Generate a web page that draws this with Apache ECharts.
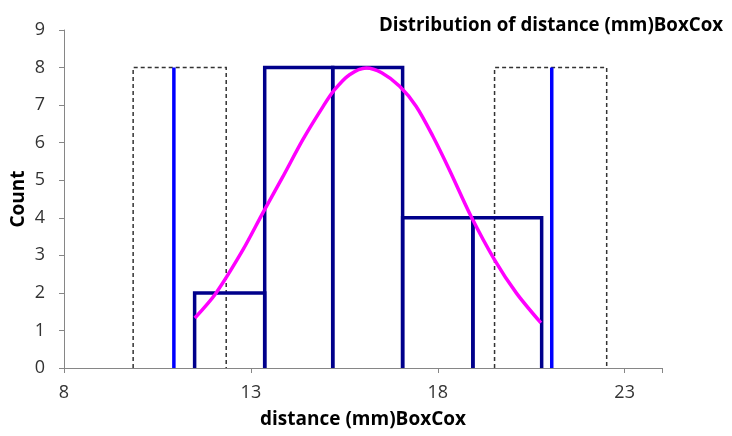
<!DOCTYPE html>
<html>
<head>
<meta charset="utf-8">
<script src="https://cdn.jsdelivr.net/npm/echarts@6/dist/echarts.min.js"></script>
<style>html,body{margin:0;padding:0;background:#fff;}#c{width:732px;height:436px;}</style>
</head>
<body>
<div id="c"></div>
<script>
// Histogram bins (edges) and counts
var binEdges = [11.495, 13.37, 15.19, 17.06, 18.94, 20.78];
var binCounts = [2, 8, 8, 4, 4];
// Vertical solid blue lines (x positions) and their height
var blueLines = [10.94, 21.05];
var blueLineHeight = 8;
// Dashed rectangles [left, right] and height
var dashedBoxes = [[9.85, 12.34], [19.52, 22.52]];
var dashedHeight = 8;
// Fitted curve points
var curveX = [11.50, 12.07, 12.79, 13.32, 13.86, 14.39, 14.93, 15.24, 15.64, 16.09, 16.50, 16.98, 17.42, 17.87, 18.31, 18.89, 19.52, 20.10, 20.76];
var curveY = [1.33, 2.00, 3.15, 4.13, 5.10, 6.08, 6.96, 7.41, 7.81, 7.99, 7.86, 7.50, 6.97, 6.17, 5.28, 4.04, 2.88, 2.00, 1.20];
// Axes
var xMin = 8, xMax = 24, xStep = 5;
var yMin = 0, yMax = 9, yStep = 1;
var titleText = 'Distribution of distance (mm)BoxCox';
var xName = 'distance (mm)BoxCox';
var yName = 'Count';

var font = 'Open Sans, Noto Sans, sans-serif';

var binData = binCounts.map(function (c, i) { return [binEdges[i], binEdges[i + 1], c]; });
var blueData = blueLines.map(function (x) { return [x, blueLineHeight]; });
var dashData = dashedBoxes.map(function (b) { return [b[0], b[1], dashedHeight]; });
var curveData = curveX.map(function (x, i) { return [x, curveY[i]]; });

function openRect(api, x0, x1, h) {
  var a = api.coord([x0, 0]), b = api.coord([x0, h]), c = api.coord([x1, h]), d = api.coord([x1, 0]);
  return [a, b, c, d];
}

var chart = echarts.init(document.getElementById('c'), null, {renderer: 'canvas'});
chart.setOption({
  animation: false,
  backgroundColor: '#ffffff',
  title: {
    text: titleText, right: 4, top: 11,
    textStyle: {fontFamily: font, fontWeight: 'bold', fontSize: 18.7, color: '#000'}
  },
  grid: {left: 64, right: 70, top: 30, bottom: 68, containLabel: false, outerBoundsMode: 'none'},
  xAxis: {
    type: 'value', min: xMin, max: xMax, interval: xStep,
    name: xName, nameLocation: 'middle', nameGap: 42, nameMoveOverlap: false,
    nameTextStyle: {fontFamily: font, fontWeight: 'bold', fontSize: 19, color: '#000'},
    axisLine: {lineStyle: {color: '#868686', width: 1}},
    axisTick: {show: true, length: 5, lineStyle: {color: '#868686'}},
    axisLabel: {fontFamily: font, fontSize: 18, color: '#333', margin: 16,
      formatter: function (v) { return v <= 23 ? String(v) : ''; }},
    splitLine: {show: false}
  },
  yAxis: {
    type: 'value', min: yMin, max: yMax, interval: yStep,
    name: yName, nameLocation: 'middle', nameGap: 36, nameRotate: 90, nameMoveOverlap: false,
    nameTextStyle: {fontFamily: font, fontWeight: 'bold', fontSize: 19, color: '#000'},
    axisLine: {show: true, lineStyle: {color: '#868686', width: 1}},
    axisTick: {show: true, length: 5, lineStyle: {color: '#868686'}},
    axisLabel: {fontFamily: font, fontSize: 18, color: '#333', margin: 19},
    splitLine: {show: false}
  },
  series: [
    {
      type: 'custom', data: dashData, z: 2,
      renderItem: function (params, api) {
        var pts = openRect(api, api.value(0), api.value(1), api.value(2));
        return {type: 'polyline', shape: {points: pts},
          style: {stroke: '#333333', lineWidth: 1.5, lineDash: [4, 3], fill: null}};
      }
    },
    {
      type: 'custom', data: binData, z: 3,
      renderItem: function (params, api) {
        var pts = openRect(api, api.value(0), api.value(1), api.value(2));
        return {type: 'polyline', shape: {points: pts},
          style: {stroke: '#00008B', lineWidth: 3.5, fill: null, lineJoin: 'miter'}};
      }
    },
    {
      type: 'custom', data: blueData, z: 4,
      renderItem: function (params, api) {
        var a = api.coord([api.value(0), 0]), b = api.coord([api.value(0), api.value(1)]);
        return {type: 'line', shape: {x1: a[0], y1: a[1], x2: b[0], y2: b[1]},
          style: {stroke: '#0000FF', lineWidth: 3.5}};
      }
    },
    {
      type: 'line', data: curveData, smooth: 0.3, showSymbol: false, symbol: 'none', z: 5,
      lineStyle: {color: '#FF00FF', width: 3.5}
    }
  ]
});
</script>
</body>
</html>
